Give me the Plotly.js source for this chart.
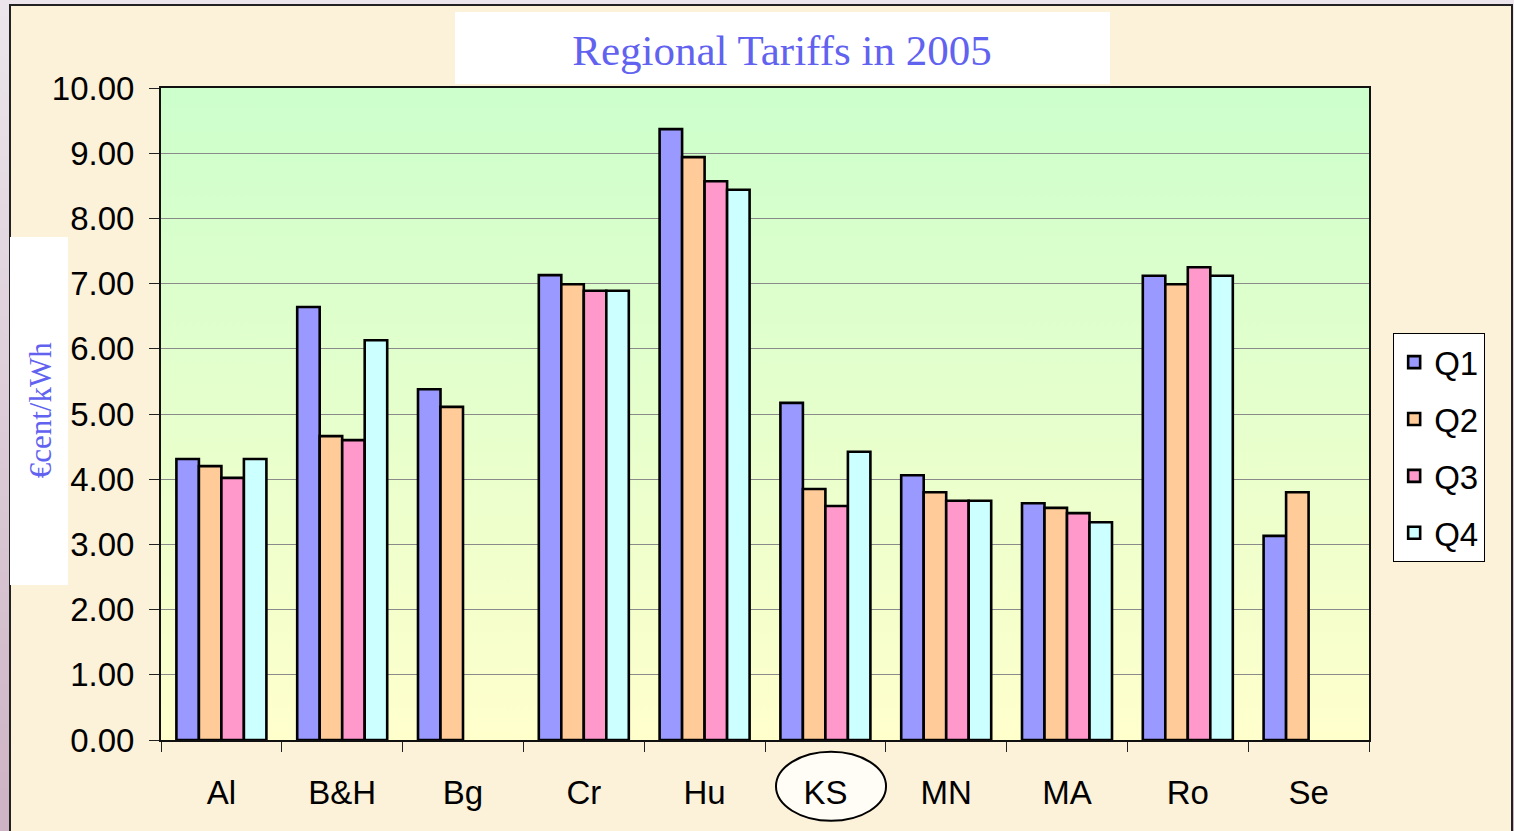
<!DOCTYPE html>
<html>
<head>
<meta charset="utf-8">
<script src="https://cdn.plot.ly/plotly-3.0.1.min.js"></script>
<style>
  html, body { margin: 0; padding: 0; width: 1514px; height: 831px; overflow: hidden;
    background: linear-gradient(to bottom, #ece6ec, #cdb3c4); }
  #frame { position: absolute; left: 9px; top: 4px; width: 1500px; height: 900px;
    border: 2px solid #222; background: #fcf1d9; }
  #chart { position: absolute; left: 0; top: 0; width: 1514px; height: 831px; }
</style>
</head>
<body>
<div id="frame"></div>
<div id="chart"></div>
<script>
const categories = ["Al", "B&H", "Bg", "Cr", "Hu", "KS", "MN", "MA", "Ro", "Se"];
const q1 = [4.31, 6.64, 5.38, 7.13, 9.37, 5.17, 4.06, 3.63, 7.12, 3.13];
const q2 = [4.20, 4.66, 5.11, 6.99, 8.94, 3.85, 3.80, 3.56, 6.99, 3.80];
const q3 = [4.02, 4.60, null, 6.89, 8.57, 3.59, 3.67, 3.48, 7.25, null];
const q4 = [4.31, 6.13, null, 6.89, 8.44, 4.42, 3.67, 3.34, 7.12, null];
const seriesNames = ["Q1", "Q2", "Q3", "Q4"];
const seriesColors = ["#9999ff", "#ffcc99", "#ff99cc", "#ccffff"];
const yTicks = [0, 1, 2, 3, 4, 5, 6, 7, 8, 9, 10];

const allSeries = [q1, q2, q3, q4];
const traces = allSeries.map((vals, i) => ({
  type: "bar",
  name: seriesNames[i],
  x: categories,
  y: vals,
  legendgroup: seriesNames[i],
  marker: { color: seriesColors[i], line: { color: "#000", width: 2.6 } },
  hoverinfo: "x+y+name"
}));

const gradSvg = '<svg xmlns="http://www.w3.org/2000/svg" width="100" height="100" preserveAspectRatio="none">' +
  '<defs><linearGradient id="g" x1="0" y1="0" x2="0" y2="1">' +
  '<stop offset="0" stop-color="#ccffcc"/><stop offset="1" stop-color="#ffffcc"/></linearGradient></defs>' +
  '<rect width="100" height="100" fill="url(#g)"/></svg>';
const gradUri = "data:image/svg+xml;base64," + btoa(gradSvg);

const layout = {
  width: 1514, height: 831,
  margin: { l: 161, r: 145, t: 88, b: 91 },
  paper_bgcolor: "rgba(0,0,0,0)",
  plot_bgcolor: "rgba(0,0,0,0)",
  barmode: "group",
  bargap: 0.255,
  bargroupgap: 0,
  title: {
    text: "Regional Tariffs in 2005",
    font: { family: "Liberation Serif, Times New Roman, serif", size: 43, color: "#6262f0" },
    x: 0.5165, xanchor: "center", y: 0.94, yanchor: "middle", yref: "container"
  },
  xaxis: {
    type: "category",
    tickson: "boundaries",
    ticks: "outside", ticklen: 10, tickcolor: "#222", tickwidth: 1.2,
    ticklabelstandoff: 22,
    showline: true, linecolor: "#111", linewidth: 2, mirror: true,
    showgrid: false,
    tickfont: { family: "Liberation Sans, Arial, sans-serif", size: 33, color: "#000" }
  },
  yaxis: {
    range: [0, 10],
    tickvals: yTicks,
    ticktext: yTicks.map(v => v.toFixed(2)),
    ticks: "outside", ticklen: 10, tickcolor: "#222", tickwidth: 1.2,
    ticklabelstandoff: 8,
    showline: true, linecolor: "#111", linewidth: 2, mirror: true,
    showgrid: true, gridcolor: "#8a8a8a", gridwidth: 1.4,
    zeroline: false,
    tickfont: { family: "Liberation Sans, Arial, sans-serif", size: 33, color: "#000" }
  },
  legend: {
    x: 1.02, y: 0.624, xanchor: "left", yanchor: "top",
    bgcolor: "#ffffff", bordercolor: "#000", borderwidth: 1,
    font: { family: "Liberation Sans, Arial, sans-serif", size: 33, color: "#000" },
    tracegroupgap: 11,
    itemwidth: 30
  },
  images: [{
    source: gradUri, xref: "paper", yref: "paper",
    x: 0, y: 1, sizex: 1, sizey: 1, sizing: "stretch",
    xanchor: "left", yanchor: "top", layer: "below"
  }],
  shapes: [
    { type: "rect", xref: "paper", yref: "paper", x0: 0.2434, x1: 0.7856, y0: 1.0061, y1: 1.1166,
      fillcolor: "#ffffff", line: { width: 0 }, layer: "below" },
    { type: "rect", xref: "paper", yref: "paper", x0: -0.125, x1: -0.077, y0: 0.2377, y1: 0.7715,
      fillcolor: "#ffffff", line: { width: 0 }, layer: "below" },
    { type: "circle", xref: "paper", yref: "paper", x0: 0.5091, x1: 0.6002, y0: -0.018, y1: -0.124,
      fillcolor: "#fffdf6", line: { color: "#000", width: 2 }, layer: "below" }
  ],
  annotations: [{
    text: "€cent/kWh", xref: "paper", yref: "paper", x: -0.1, y: 0.506,
    xanchor: "center", yanchor: "middle", textangle: -90, showarrow: false,
    font: { family: "Liberation Serif, Times New Roman, serif", size: 31, color: "#6262f0" }
  }],
  showlegend: true
};

Plotly.newPlot("chart", traces, layout, { displayModeBar: false, responsive: false });
</script>
</body>
</html>
